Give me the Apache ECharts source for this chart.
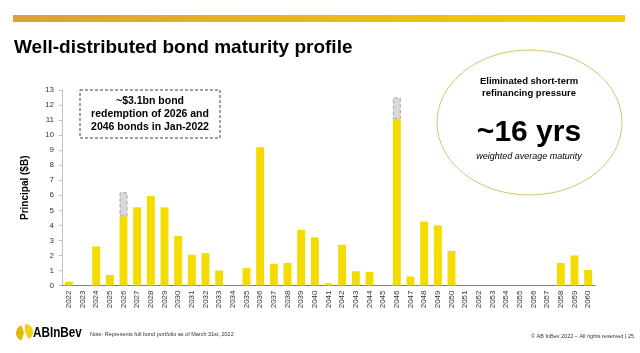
<!DOCTYPE html>
<html><head><meta charset="utf-8">
<script src="https://cdn.jsdelivr.net/npm/echarts@6/dist/echarts.min.js"></script>
<style>html,body{margin:0;padding:0;background:#fff}#c{width:640px;height:353px}</style>
</head><body><div id="c"></div>
<script>
var years = ['2022','2023','2024','2025','2026','2027','2028','2029','2030','2031','2032','2033','2034','2035','2036','2037','2038','2039','2040','2041','2042','2043','2044','2045','2046','2047','2048','2049','2050','2051','2052','2053','2054','2055','2056','2057','2058','2059','2060'];
var principal = [0.25,0,2.6,0.7,4.6,5.2,5.95,5.2,3.3,2.05,2.15,1.0,0,1.15,9.2,1.45,1.5,3.7,3.2,0.15,2.7,0.95,0.9,0,11.05,0.6,4.25,4.0,2.3,0,0,0,0,0,0,0,1.5,2.0,1.03];
var redeemed = [null,null,null,null,1.6,null,null,null,null,null,null,null,null,null,null,null,null,null,null,null,null,null,null,null,1.45,null,null,null,null,null,null,null,null,null,null,null,null,null,null];
var yTicks = [0,1,2,3,4,5,6,7,8,9,10,11,12,13];

var chart = echarts.init(document.getElementById('c'), null, {renderer:'canvas'});
var font = 'Liberation Sans, Arial, sans-serif';
chart.setOption({
  animation:false,
  grid:{left:62,right:45,top:90,bottom:67.5,containLabel:false},
  xAxis:{type:'category',data:years,
    axisLine:{lineStyle:{color:'#7f7f7f',width:1}},
    axisTick:{show:false},
    axisLabel:{rotate:90,interval:0,fontSize:8,color:'#333',fontFamily:font,margin:5}},
  yAxis:{type:'value',min:yTicks[0],max:yTicks[yTicks.length-1],interval:1,
    name:'Principal ($B)',nameLocation:'middle',nameGap:32,nameRotate:90,
    nameTextStyle:{fontSize:10,fontWeight:'bold',color:'#000',fontFamily:font},
    axisLine:{show:true,lineStyle:{color:'#bfbfbf'}},
    axisTick:{show:true,length:3,lineStyle:{color:'#bfbfbf'}},
    splitLine:{show:false},
    axisLabel:{fontSize:8,color:'#333',fontFamily:font,margin:8}},
  series:[
    {type:'bar',stack:'a',data:principal,barWidth:'58%',itemStyle:{color:'#f5dc00'}},
    {type:'bar',stack:'a',data:redeemed,barWidth:'58%',
      itemStyle:{color:'#d9d9d9',borderColor:'#a6a6a6',borderWidth:1,borderType:'dashed'}}
  ],
  graphic:[
    {type:'rect',shape:{x:13,y:15,width:612,height:7},
      style:{fill:new echarts.graphic.LinearGradient(0,0,1,0,[{offset:0,color:'#d4a537'},{offset:1,color:'#f2d000'}])}},
    {type:'text',x:14,y:48,style:{text:'Well-distributed bond maturity profile',verticalAlign:'middle',font:'bold 19px '+font,fill:'#000'}},
    {type:'rect',shape:{x:80,y:90,width:140,height:48},
      style:{fill:'#fff',stroke:'#404040',lineWidth:1,lineDash:[3,2]}},
    {type:'text',x:150,y:114,style:{text:'~$3.1bn bond\nredemption of 2026 and\n2046 bonds in Jan-2022',align:'center',verticalAlign:'middle',
      font:'bold 10.5px '+font,lineHeight:13,fill:'#000'}},
    {type:'ellipse',shape:{cx:529.5,cy:122.5,rx:92.5,ry:72.5},style:{fill:'#fff',stroke:'#d9c26a',lineWidth:1}},
    {type:'text',x:529,y:87,style:{text:'Eliminated short-term\nrefinancing pressure',align:'center',verticalAlign:'middle',
      font:'bold 9.5px '+font,lineHeight:12,fill:'#000'}},
    {type:'text',x:529,y:133,style:{text:'~16 yrs',align:'center',verticalAlign:'middle',font:'bold 30px '+font,fill:'#000'}},
    {type:'text',x:529,y:156,style:{text:'weighted average maturity',align:'center',verticalAlign:'middle',font:'italic 9px '+font,fill:'#000'}},
    {type:'sector',shape:{cx:24,cy:333,r:8,r0:0,startAngle:Math.PI*0.6,endAngle:Math.PI*1.4},style:{fill:'#e5b700'}},
    {type:'sector',shape:{cx:25,cy:332,r:8,r0:0,startAngle:-Math.PI*0.5,endAngle:Math.PI*0.35},style:{fill:'#f2cf1a'}},
    {type:'text',x:33,y:333,scaleX:0.78,style:{text:'ABInBev',verticalAlign:'middle',font:'bold 15px '+font,fill:'#000'}},
    {type:'text',x:90,y:334,style:{text:'Note: Represents full bond portfolio as of March 31st, 2022',verticalAlign:'middle',font:'5.5px '+font,fill:'#333'}},
    {type:'text',x:634,y:336,style:{text:'© AB InBev 2022 – All rights reserved | 25',align:'right',verticalAlign:'middle',font:'5.5px '+font,fill:'#333'}}
  ]
});
</script></body></html>
